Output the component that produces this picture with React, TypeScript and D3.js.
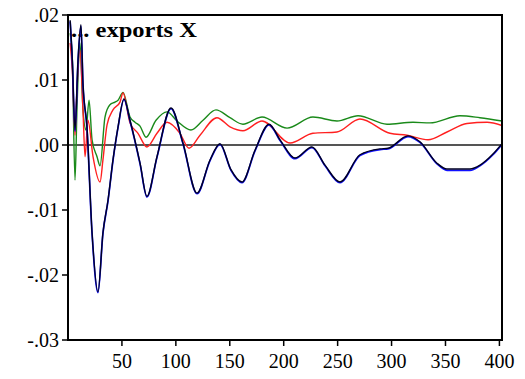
import React from "react";
import * as d3 from "d3";

const periods = [2, 4, 6.5, 9.3, 12, 13.9, 17.6, 22.3, 27.8, 32.4, 37.1, 41.7, 46.4, 51.9, 57.5, 66.8, 73.2, 82.5, 95.5, 106.6, 119.6, 131.7, 140.9, 151.1, 161.3, 173.4, 186.4, 196.6, 210.5, 226.2, 238.3, 252.2, 270.7, 289.3, 296.7, 315.2, 326.3, 342.1, 351.4, 372.7, 382, 394, 402.4];
const darkValues = [0.0192, 0.0131, 0.0023, 0.0131, 0.0185, 0.0095, 0.0028, -0.0135, -0.0226, -0.0135, -0.0085, -0.0023, 0.0028, 0.0071, 0.0038, -0.0028, -0.0079, -0.0018, 0.0057, 0.0003, -0.0074, -0.0023, 0.0002, -0.0038, -0.0057, -0.0008, 0.0032, 0.0008, -0.002, -0.0003, -0.0031, -0.0057, -0.0015, -0.0006, -0.0005, 0.0014, 0.0005, -0.0028, -0.0037, -0.0037, -0.0031, -0.0014, 0.0002];
const blueValues = [0.0190, 0.0129, 0.0021, 0.0129, 0.0183, 0.0093, 0.0026, -0.0136, -0.0227, -0.0136, -0.0086, -0.0024, 0.0027, 0.0070, 0.0037, -0.0029, -0.0080, -0.0019, 0.0056, 0.0002, -0.0075, -0.0024, 0.0001, -0.0039, -0.0058, -0.0009, 0.0031, 0.0007, -0.0021, -0.0004, -0.0032, -0.0058, -0.0016, -0.0007, -0.0006, 0.0013, 0.0004, -0.0029, -0.0039, -0.0039, -0.0032, -0.0015, 0.0001];

const redPeriods = [2, 4, 6.5, 8.3, 11.1, 13.9, 15.8, 18.5, 23.2, 29.7, 32.4, 36.2, 41.7, 48.2, 51, 57.5, 64.9, 73.2, 82.5, 91.8, 103.8, 112.2, 122.4, 138.1, 150.2, 162.2, 179.9, 205.9, 227.1, 249.4, 270.7, 298.5, 314.3, 333.8, 351.4, 369.9, 388.5, 402.4];
const redValues = [0.0157, 0.0115, 0.0015, 0.0085, 0.0146, 0.0054, -0.0018, 0.0038, -0.0018, -0.0057, -0.0023, 0.0031, 0.0054, 0.0066, 0.0080, 0.0034, 0.0018, -0.0003, 0.0018, 0.0035, 0.0018, -0.0005, 0.0015, 0.0042, 0.0028, 0.0022, 0.0037, 0.0003, 0.0018, 0.0020, 0.0040, 0.0018, 0.0015, 0.0008, 0.0020, 0.0033, 0.0035, 0.0030];

const greenPeriods = [2, 4, 6.5, 8.3, 11.1, 13.9, 16.7, 19.5, 22.3, 26.9, 29.7, 34.3, 38.9, 43.6, 46.4, 51, 57.5, 62.1, 66.8, 72.3, 81.6, 91.8, 101.1, 114, 125.2, 137.2, 150.2, 162.2, 179.9, 203.1, 227.1, 249.4, 268.9, 295.8, 319.9, 335.6, 363.4, 382, 402.4];
const greenValues = [0.0172, 0.0131, -0.0054, 0.0054, 0.0157, 0.0054, 0.0023, 0.0069, 0.0008, -0.0018, -0.0032, 0.0043, 0.0062, 0.0066, 0.0069, 0.0081, 0.0043, 0.0035, 0.0029, 0.0012, 0.0038, 0.0051, 0.0037, 0.0023, 0.0038, 0.0054, 0.0042, 0.0032, 0.0043, 0.0026, 0.0043, 0.0037, 0.0045, 0.0032, 0.0035, 0.0034, 0.0045, 0.0042, 0.0037];

const xTicks = [50, 100, 150, 200, 250, 300, 350, 400];
const yTicks = [0.02, 0.01, 0, -0.01, -0.02, -0.03];
const yTickLabels = [".02", ".01", ".00", "-.01", "-.02", "-.03"];
const title = "... exports X";

const W = 525;
const H = 379;
const L = 68, R = 502, T = 15, B = 340;

export default function App() {
  const x = d3.scaleLinear().domain([0, 402.4]).range([L, R]);
  const y = d3.scaleLinear().domain([-0.03, 0.02]).range([B, T]);
  const line = d3
    .line<[number, number]>()
    .x((d) => x(d[0]))
    .y((d) => y(d[1]))
    .curve(d3.curveMonotoneX);
  const zip = (ts: number[], vs: number[]) => ts.map((t, i) => [t, vs[i]] as [number, number]);
  const font = "'Liberation Serif', 'Times New Roman', serif";
  return (
    <svg width={W} height={H} style={{ position: "absolute", left: 0, top: 0, background: "#fff" }}>
      <defs>
        <clipPath id="plot">
          <rect x={L} y={T} width={R - L} height={B - T} />
        </clipPath>
      </defs>
      <line x1={L} x2={R} y1={y(0)} y2={y(0)} stroke="#555" strokeWidth={2} />
      <text x={71} y={37} fontFamily={font} fontWeight="bold" fontSize={21} fill="#000" textLength={126} lengthAdjust="spacingAndGlyphs">
        {title}
      </text>
      <g clipPath="url(#plot)" fill="none" strokeWidth={1.4}>
        <path d={line(zip(greenPeriods, greenValues)) || ""} stroke="#1a8a1a" />
        <path d={line(zip(redPeriods, redValues)) || ""} stroke="#ff2020" />
        <path d={line(zip(periods, blueValues)) || ""} stroke="#1010ff" strokeWidth={1.7} />
        <path d={line(zip(periods, darkValues)) || ""} stroke="#000022" strokeWidth={1.4} />
      </g>
      <rect x={L} y={T} width={R - L} height={B - T} fill="none" stroke="#000" strokeWidth={2} />
      {yTicks.map((v, i) => (
        <g key={v}>
          <line x1={L - 6} x2={L} y1={y(v)} y2={y(v)} stroke="#000" strokeWidth={1.5} />
          <text x={L - 9} y={y(v)} dy="0.35em" textAnchor="end" fontFamily={font} fontSize={20} fill="#000">
            {yTickLabels[i]}
          </text>
        </g>
      ))}
      {xTicks.map((v) => (
        <g key={v}>
          <line x1={x(v)} x2={x(v)} y1={B} y2={B + 6} stroke="#000" strokeWidth={1.5} />
          <text x={x(v)} y={B + 28} textAnchor="middle" fontFamily={font} fontSize={20} fill="#000">
            {v}
          </text>
        </g>
      ))}
    </svg>
  );
}
